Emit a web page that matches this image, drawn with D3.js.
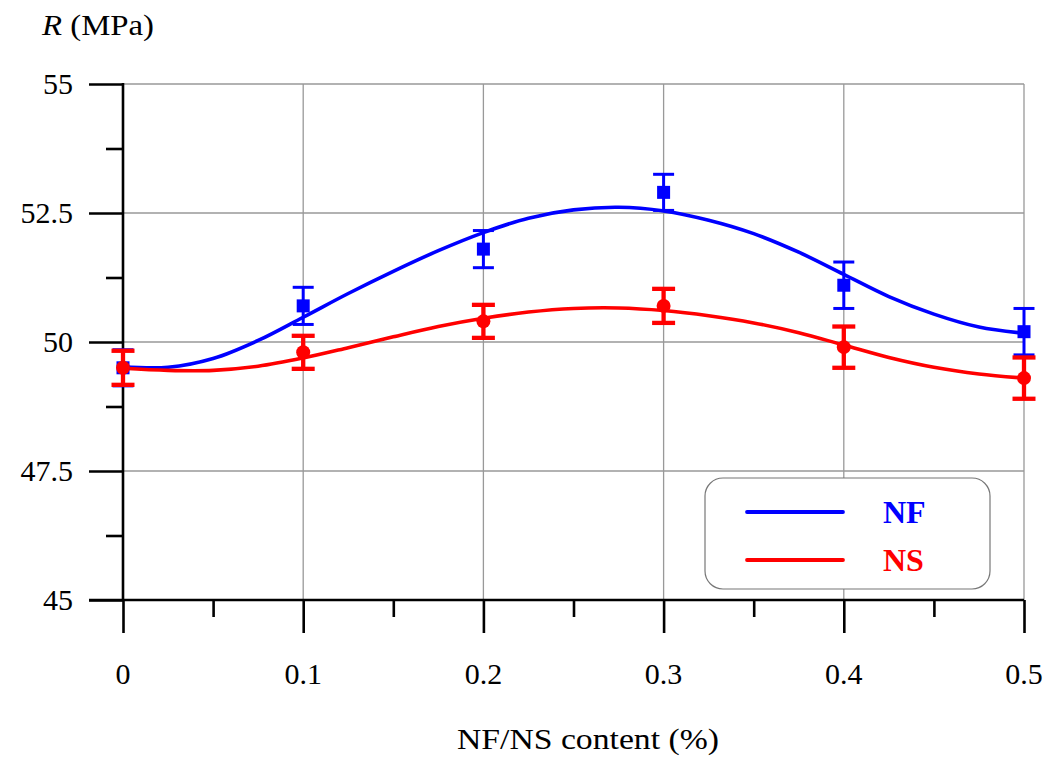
<!DOCTYPE html>
<html>
<head>
<meta charset="utf-8">
<script src="https://cdn.jsdelivr.net/npm/d3@7"></script>
<style>
html, body { margin: 0; padding: 0; background: #fff; }
svg { display: block; }
</style>
</head>
<body>
<svg id="chart" width="1061" height="760"></svg>
<script>
// ---- Data ----
const contents = [0, 0.1, 0.2, 0.3, 0.4, 0.5];
const nfMean = [49.5, 50.7, 51.8, 52.9, 51.1, 50.2];
const nfErr  = [0.35, 0.36, 0.36, 0.35, 0.45, 0.45];
const nsMean = [49.5, 49.8, 50.4, 50.7, 49.9, 49.3];
const nsErr  = [0.33, 0.32, 0.32, 0.33, 0.40, 0.40];

// fitted curves
const fitX  = [0, 0.025, 0.05, 0.075, 0.1, 0.125, 0.15, 0.175, 0.2, 0.225, 0.25,
               0.275, 0.3, 0.325, 0.35, 0.375, 0.4, 0.425, 0.45, 0.475, 0.5];
const nfFit = [49.52, 49.51, 49.68, 50.03, 50.48, 50.94, 51.37, 51.77, 52.12, 52.40, 52.56,
               52.61, 52.54, 52.36, 52.10, 51.74, 51.31, 50.88, 50.54, 50.29, 50.17];
const nsFit = [49.49, 49.45, 49.45, 49.53, 49.69, 49.89, 50.10, 50.30, 50.46, 50.58, 50.65,
               50.66, 50.61, 50.51, 50.37, 50.18, 49.94, 49.70, 49.51, 49.38, 49.30];

const xMajor = [0, 0.1, 0.2, 0.3, 0.4, 0.5];
const xMinor = [0.05, 0.15, 0.25, 0.35, 0.45];
const yMajor = [45, 47.5, 50, 52.5, 55];
const yMinor = [46.25, 48.75, 51.25, 53.75];
const yTickLabels = ["45", "47.5", "50", "52.5", "55"];
const xTickLabels = ["0", "0.1", "0.2", "0.3", "0.4", "0.5"];

const seriesNames = ["NF", "NS"];
const colors = ["#0000ff", "#ff0000"];

// ---- Layout ----
const svg = d3.select("#chart");
const x = d3.scaleLinear().domain([0, 0.5]).range([123, 1024]);
const y = d3.scaleLinear().domain([45, 55]).range([600, 84]);
const serif = "'Liberation Serif', 'Times New Roman', serif";

// gridlines
const grid = svg.append("g").attr("stroke", "#999").attr("stroke-width", 1.3);
yMajor.forEach(v => grid.append("line")
  .attr("x1", x(0)).attr("x2", x(0.5)).attr("y1", y(v)).attr("y2", y(v)));
xMajor.forEach(v => grid.append("line")
  .attr("x1", x(v)).attr("x2", x(v)).attr("y1", y(45)).attr("y2", y(55)));

// legend box (covers grid)
svg.append("rect")
  .attr("x", 705).attr("y", 478).attr("width", 285).attr("height", 111)
  .attr("rx", 18).attr("ry", 18)
  .attr("fill", "#fff").attr("stroke", "#777").attr("stroke-width", 1.2);

// axes
const yAxis = d3.axisLeft(y).tickValues(yMajor).tickSize(34).tickFormat("");
const yAxisMinor = d3.axisLeft(y).tickValues(yMinor).tickSize(17).tickFormat("");
const xAxis = d3.axisBottom(x).tickValues(xMajor).tickSize(33).tickFormat("");
const xAxisMinor = d3.axisBottom(x).tickValues(xMinor).tickSize(17).tickFormat("");

function styleAxis(g) {
  g.select(".domain").remove();
  g.selectAll("line").attr("stroke", "#000").attr("stroke-width", 2.6);
}
svg.append("g").attr("transform", `translate(${x(0)},0)`).call(yAxis).call(styleAxis);
svg.append("g").attr("transform", `translate(${x(0)},0)`).call(yAxisMinor).call(styleAxis);
svg.append("g").attr("transform", `translate(0,${y(45)})`).call(xAxis).call(styleAxis);
svg.append("g").attr("transform", `translate(0,${y(45)})`).call(xAxisMinor).call(styleAxis);

svg.append("line").attr("x1", x(0)).attr("x2", x(0)).attr("y1", y(55) - 1).attr("y2", y(45))
  .attr("stroke", "#000").attr("stroke-width", 2.6);
svg.append("line").attr("x1", x(0) - 34).attr("x2", x(0.5)).attr("y1", y(45)).attr("y2", y(45))
  .attr("stroke", "#000").attr("stroke-width", 2.6);

// tick labels
svg.append("g").selectAll("text").data(yMajor).join("text")
  .attr("x", 73).attr("y", d => y(d) + 10)
  .attr("text-anchor", "end")
  .attr("font-family", serif).attr("font-size", 30).attr("fill", "#000")
  .text((d, i) => yTickLabels[i]);
svg.append("g").selectAll("text").data(xMajor).join("text")
  .attr("x", d => x(d)).attr("y", 684)
  .attr("text-anchor", "middle")
  .attr("font-family", serif).attr("font-size", 30).attr("fill", "#000")
  .text((d, i) => xTickLabels[i]);

// axis titles
const yt = svg.append("text").attr("x", 42).attr("y", 35)
  .attr("font-family", serif).attr("font-size", 30).attr("fill", "#000")
  .attr("textLength", 112).attr("lengthAdjust", "spacingAndGlyphs");
yt.append("tspan").attr("font-style", "italic").text("R");
yt.append("tspan").text(" (MPa)");

svg.append("text").attr("x", 588).attr("y", 749)
  .attr("text-anchor", "middle")
  .attr("font-family", serif).attr("font-size", 30).attr("fill", "#000")
  .attr("textLength", 262).attr("lengthAdjust", "spacingAndGlyphs")
  .text("NF/NS content (%)");

// fitted curves
const line = d3.line().x(d => x(d[0])).y(d => y(d[1])).curve(d3.curveCatmullRom.alpha(0.5));
[nfFit, nsFit].forEach((fit, i) => {
  svg.append("path")
    .datum(fitX.map((v, j) => [v, fit[j]]))
    .attr("d", line)
    .attr("fill", "none")
    .attr("stroke", colors[i])
    .attr("stroke-width", 3.6);
});

// error bars
function errorBars(means, errs, color, w, capHalf) {
  const g = svg.append("g").attr("stroke", color).attr("stroke-width", w);
  contents.forEach((c, i) => {
    const cx = x(c), top = y(means[i] + errs[i]), bot = y(means[i] - errs[i]);
    g.append("line").attr("x1", cx).attr("x2", cx).attr("y1", top).attr("y2", bot);
    g.append("line").attr("x1", cx - capHalf).attr("x2", cx + capHalf).attr("y1", top).attr("y2", top);
    g.append("line").attr("x1", cx - capHalf).attr("x2", cx + capHalf).attr("y1", bot).attr("y2", bot);
  });
}
errorBars(nfMean, nfErr, colors[0], 3, 10.5);

// NF markers (squares)
svg.append("g").selectAll("rect").data(contents).join("rect")
  .attr("x", d => x(d) - 6.5).attr("y", (d, i) => y(nfMean[i]) - 6.5)
  .attr("width", 13).attr("height", 13).attr("fill", colors[0]);

errorBars(nsMean, nsErr, colors[1], 4.3, 11.5);

// NS markers (circles)
svg.append("g").selectAll("circle").data(contents).join("circle")
  .attr("cx", d => x(d)).attr("cy", (d, i) => y(nsMean[i]))
  .attr("r", 7).attr("fill", colors[1]);

// legend entries
seriesNames.forEach((name, i) => {
  const ly = 512 + i * 48;
  svg.append("line").attr("x1", 747).attr("x2", 843).attr("y1", ly).attr("y2", ly)
    .attr("stroke", colors[i]).attr("stroke-width", 3.8).attr("stroke-linecap", "round");
  svg.append("text").attr("x", 883).attr("y", ly + 11)
    .attr("font-family", serif).attr("font-size", 32).attr("font-weight", "bold")
    .attr("fill", colors[i]).text(name);
});
</script>
</body>
</html>
